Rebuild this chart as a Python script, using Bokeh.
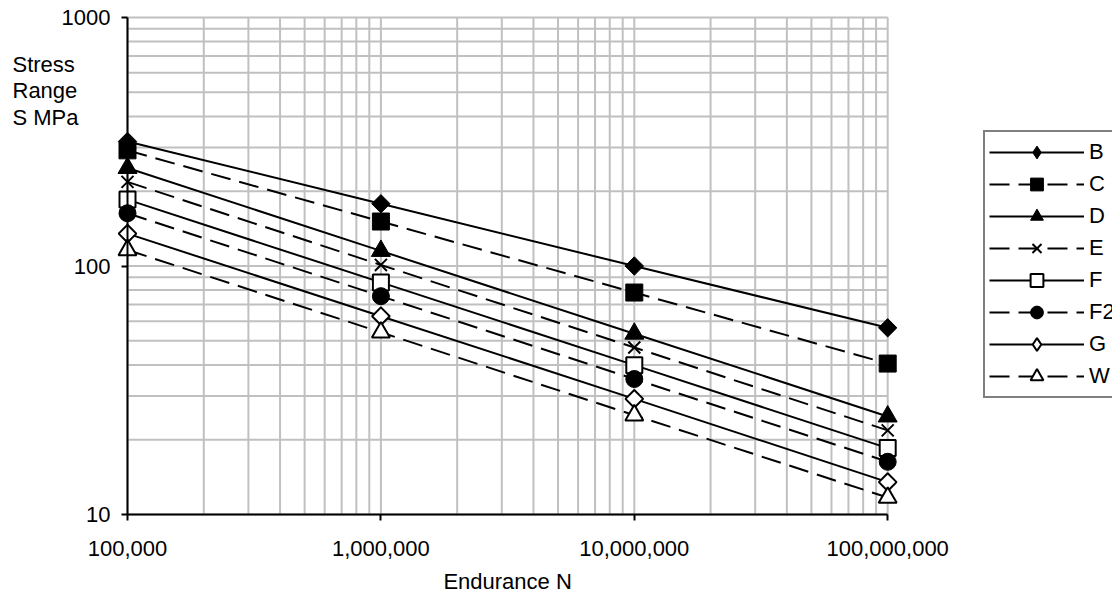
import numpy as np
from bokeh.plotting import figure
from bokeh.models import (Range1d, FixedTicker, NumeralTickFormatter, Legend,
                          LegendItem, Label)
from bokeh.embed import file_html
from bokeh.resources import INLINE

# ---------------- data ----------------
endurance = [1e5, 1e6, 1e7, 1e8]
B = [317, 178, 100, 56.4]
C = [292, 151, 78.2, 40.5]
D = [248, 115, 53.4, 24.8]
E = [218, 101, 47.0, 21.8]
F = [185, 85.9, 39.9, 18.5]
F2 = [163, 75.6, 35.1, 16.3]
G = [135, 62.8, 29.2, 13.5]
W = [116, 54.1, 25.1, 11.7]
class_names = ["B", "C", "D", "E", "F", "F2", "G", "W"]
x_ticks = [100000, 1000000, 10000000, 100000000]
y_ticks = [10, 100, 1000]
x_title = "Endurance N"
y_title = "Stress\nRange\nS  MPa"

# ---------------- geometry / style ----------------
FONT = "Liberation Sans"
FS = "22px"
FIG_W, FIG_H = 1112, 596
X0_PX, X_DEC = 127.0, 253.4      # pixel of first x tick, pixels per decade
Y0_PX, Y_DEC = 17.0, 248.5       # pixel of top y tick, pixels per decade
lx0, ly1 = np.log10(x_ticks[0]), np.log10(y_ticks[-1])


def px_x(px):
    return 10 ** (lx0 + (px - X0_PX) / X_DEC)


def px_y(py):
    return 10 ** (ly1 - (py - Y0_PX) / Y_DEC)


p = figure(width=FIG_W, height=FIG_H, x_axis_type="log", y_axis_type="log",
           x_range=Range1d(px_x(0), px_x(FIG_W)),
           y_range=Range1d(px_y(FIG_H), px_y(0)),
           output_backend="svg", toolbar_location=None,
           min_border=0, min_border_left=0, min_border_right=0,
           min_border_top=0, min_border_bottom=0)
p.outline_line_color = None
p.background_fill_color = "white"
p.border_fill_color = "white"
p.xgrid.visible = False
p.ygrid.visible = False

minor_x = [m * d for d in x_ticks[:-1] for m in range(2, 10)]
minor_y = [m * d for d in y_ticks[:-1] for m in range(2, 10)]
p.xaxis.ticker = FixedTicker(ticks=x_ticks)
p.yaxis.ticker = FixedTicker(ticks=y_ticks)
p.xaxis.formatter = NumeralTickFormatter(format="0,0")
p.yaxis.formatter = NumeralTickFormatter(format="0")

# ---------------- grid (inside the data area only) ----------------
GRID = "#c0c0c0"
gx = x_ticks + minor_x
gy = y_ticks + minor_y
p.segment(x0=gx, y0=[y_ticks[0]] * len(gx), x1=gx, y1=[y_ticks[-1]] * len(gx),
          line_color=GRID, line_width=2, level="underlay")
p.segment(x0=[x_ticks[0]] * len(gy), y0=gy, x1=[x_ticks[-1]] * len(gy), y1=gy,
          line_color=GRID, line_width=2, level="underlay")

for ax in (p.xaxis, p.yaxis):
    ax.axis_line_color = "black"
    ax.axis_line_width = 2
    ax.major_tick_line_color = "black"
    ax.major_tick_line_width = 2
    ax.major_tick_out = 6
    ax.major_tick_in = 0
    ax.minor_tick_out = 0
    ax.minor_tick_in = 0
    ax.major_label_text_font = FONT
    ax.major_label_text_font_size = FS
    ax.major_label_text_color = "black"
p.xaxis.bounds = (x_ticks[0], x_ticks[-1])
p.yaxis.bounds = (y_ticks[0], y_ticks[-1])
p.xaxis.fixed_location = y_ticks[0]
p.yaxis.fixed_location = x_ticks[0]
p.xaxis.major_label_standoff = 20
p.yaxis.major_label_standoff = 11

# ---------------- series ----------------
series = [B, C, D, E, F, F2, G, W]
dashes = ["solid", "20 9", "solid", "20 9", "solid", "20 9", "solid", "20 9"]
markers = [
    dict(marker="square", angle=np.pi / 4, size=13, fill_color="black", line_width=1),
    dict(marker="square", size=17, fill_color="black", line_width=1),
    dict(marker="triangle", size=19, fill_color="black", line_width=1),
    dict(marker="x", size=17, fill_color=None, line_width=2),
    dict(marker="square", size=16, fill_color="white", line_width=2),
    dict(marker="circle", size=17, fill_color="black", line_width=1),
    dict(marker="square", angle=np.pi / 4, size=12.5, fill_color="white", line_width=2),
    dict(marker="triangle", size=18, fill_color="white", line_width=2),
]

items = []
for name, vals, dash, mk in zip(class_names, series, dashes, markers):
    lr = p.line(endurance, vals, line_color="black", line_width=2,
                line_dash=dash)
    legend_renderers = [lr]
    if mk.get("angle"):
        # diamond drawn underneath (hidden) so the legend shows a diamond
        dr = p.scatter(endurance, vals, marker="diamond", size=1,
                       line_color="black", fill_color=mk["fill_color"],
                       line_width=mk["line_width"])
        legend_renderers.append(dr)
    sr = p.scatter(endurance, vals, line_color="black", **mk)
    if not mk.get("angle"):
        legend_renderers.append(sr)
    items.append(LegendItem(label=name, renderers=legend_renderers))

legend = Legend(items=items, location=(983, 198))
legend.glyph_width = 95
legend.glyph_height = 32
legend.spacing = 0
legend.padding = 4
legend.margin = 0
legend.label_standoff = 5
legend.label_width = 45
legend.label_text_font = FONT
legend.label_text_font_size = FS
legend.label_text_color = "black"
legend.border_line_color = "black"
legend.border_line_width = 2
legend.background_fill_color = "white"
legend.background_fill_alpha = 1.0
p.add_layout(legend)

# ---------------- axis titles ----------------
p.add_layout(Label(x=px_x(12), y=px_y(51), text=y_title,
                   text_font=FONT, text_font_size=FS, text_color="black",
                   text_align="left", text_baseline="top",
                   text_line_height=1.07))

p.add_layout(Label(x=np.sqrt(x_ticks[0] * x_ticks[-1]), y=px_y(581),
                   text=x_title,
                   text_font=FONT, text_font_size=FS, text_color="black",
                   text_align="center", text_baseline="middle"))

open("out.html", "w").write(file_html(p, INLINE))
